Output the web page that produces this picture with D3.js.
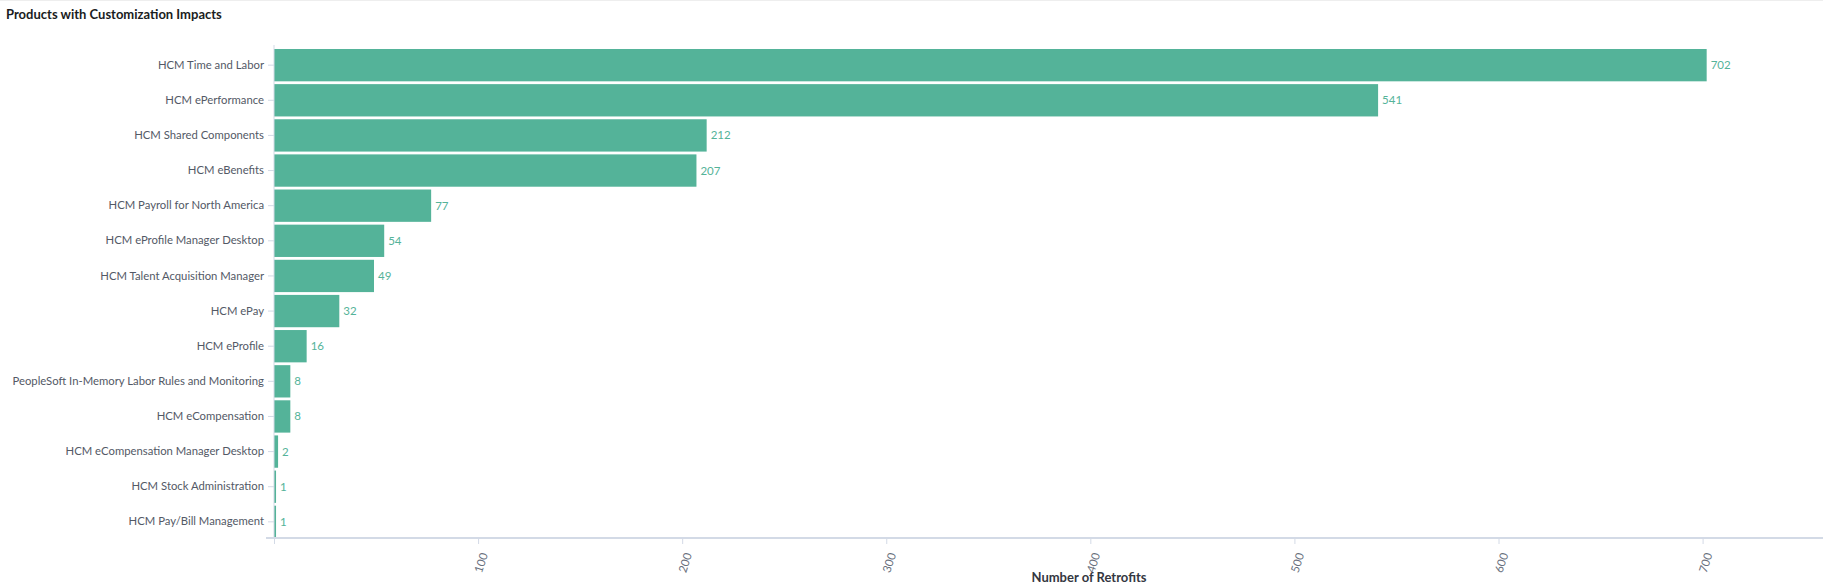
<!DOCTYPE html>
<html><head><meta charset="utf-8">
<script src="https://cdn.jsdelivr.net/npm/d3@7"></script>
<style>
body{margin:0;background:#fff;font-family:Lato,"Noto Sans",sans-serif;}
</style></head><body>
<svg id="c" width="1823" height="585"></svg>
<script>
const categories = ['HCM Time and Labor','HCM ePerformance','HCM Shared Components','HCM eBenefits',
  'HCM Payroll for North America','HCM eProfile Manager Desktop','HCM Talent Acquisition Manager',
  'HCM ePay','HCM eProfile','PeopleSoft In-Memory Labor Rules and Monitoring','HCM eCompensation',
  'HCM eCompensation Manager Desktop','HCM Stock Administration','HCM Pay/Bill Management'];
const values = [702,541,212,207,77,54,49,32,16,8,8,2,1,1];
const xTicks = [100,200,300,400,500,600,700];

const svg = d3.select('#c');
const L = 274, R = 1823, T = 49, B = 538;
svg.append('line').attr('x1',0).attr('x2',1823).attr('y1',0.5).attr('y2',0.5).attr('stroke','#eee');
svg.append('text').attr('x',6).attr('y',19).attr('font-size',13).attr('font-weight',700)
  .attr('fill','#1a1c21').text('Products with Customization Impacts');

const x = d3.scaleLinear().domain([0,759]).range([L,R]);
const y = d3.scaleBand().domain(categories).range([T,B]).paddingInner(0.08);

svg.selectAll('rect.bar').data(values).join('rect').attr('class','bar')
  .attr('x',x(0)).attr('y',(d,i)=>y(categories[i]))
  .attr('width',d=>x(d)-x(0)).attr('height',y.bandwidth()).attr('fill','#54b399');
svg.selectAll('text.val').data(values).join('text').attr('class','val')
  .attr('x',d=>x(d)+4).attr('y',(d,i)=>y(categories[i])+y.bandwidth()/2).attr('dy','0.35em')
  .attr('font-size',11.5).attr('fill','#54b399').text(d=>d);

const ya = svg.append('g').attr('transform',`translate(${L},0)`)
  .call(d3.axisLeft(y).tickSize(6).tickPadding(4));
ya.select('.domain').attr('stroke','#d3dae6').attr('d',`M0,${T-4}V${B}`);
ya.selectAll('.tick line').attr('stroke','#d3dae6');
ya.selectAll('.tick text').attr('font-size',11.3).attr('fill','#535966').attr('font-family','Lato,"Noto Sans",sans-serif');

const xa = svg.append('g').attr('transform',`translate(0,${B})`)
  .call(d3.axisBottom(x).tickValues([0,...xTicks]).tickFormat(d=>d===0?'':d).tickSize(6));
xa.select('.domain').attr('stroke','#d3dae6').attr('stroke-width',2).attr('d',`M${L-8},0H${R}`);
xa.selectAll('.tick line').attr('stroke','#d3dae6');
xa.selectAll('.tick text').attr('font-size',11.5).attr('fill','#69707d')
  .attr('font-family','Lato,"Noto Sans",sans-serif')
  .attr('transform','translate(-6,22) rotate(-72)').attr('text-anchor','middle').attr('dy','0.35em');
svg.append('text').attr('x',1089).attr('y',582).attr('text-anchor','middle')
  .attr('font-size',13).attr('font-weight',700).attr('fill','#343741').text('Number of Retrofits');
</script></body></html>
